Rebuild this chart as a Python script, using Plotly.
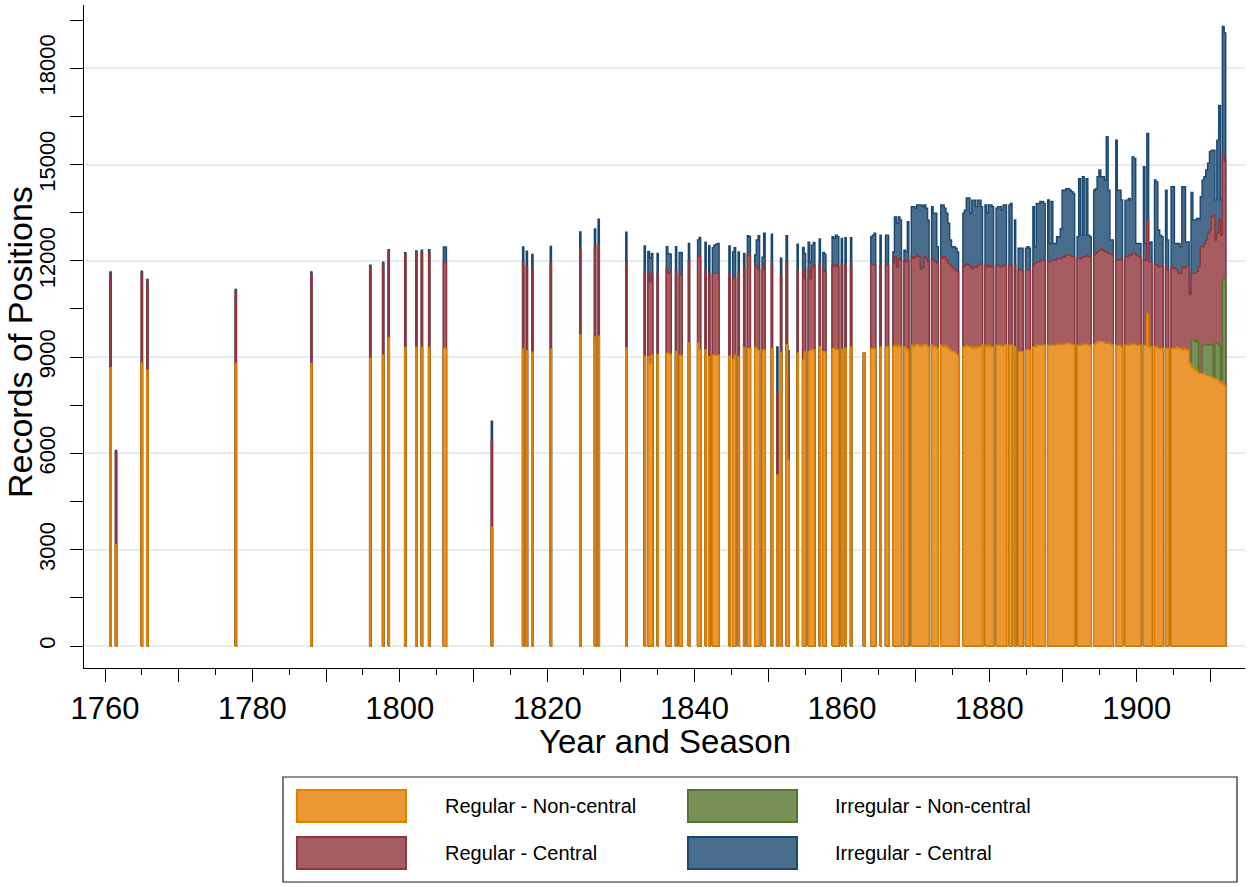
import numpy as np
import plotly.graph_objects as go

# ---------------- data ----------------
series_names = ["Regular - Non-central", "Irregular - Non-central",
                "Regular - Central", "Irregular - Central"]

period = [
    1760.75, 1761.5, 1765.0, 1765.75, 1777.75, 1788.0, 1796.0, 1797.75, 1798.5, 1800.75,
    1802.25, 1803.0, 1804.0, 1806.0, 1806.25, 1812.5, 1816.75, 1817.25, 1818.0, 1820.5,
    1824.5, 1826.5, 1827.0, 1830.75,
    1833.25, 1833.75, 1834.0, 1834.25, 1835.0, 1836.25, 1836.5, 1836.75, 1837.5, 1838.0,
    1838.25, 1839.25, 1840.5, 1840.75, 1841.5, 1842.0, 1842.5, 1842.75, 1843.0, 1843.25,
    1844.75, 1845.25, 1845.5, 1846.0, 1846.75, 1847.25, 1847.5, 1848.25, 1848.5, 1848.75,
    1849.25, 1849.5, 1850.5, 1851.25, 1851.75, 1852.5, 1852.75, 1854.0, 1854.75, 1855.0,
    1855.5, 1855.75, 1856.0, 1856.25, 1857.0, 1857.5, 1857.75, 1858.75, 1859.0, 1859.25,
    1859.5, 1860.0, 1860.5, 1861.25, 1863.0,
    1864.0, 1864.25, 1864.5, 1865.25, 1866.0, 1866.25,
    1867.0, 1867.25, 1867.5, 1867.75, 1868.0, 1868.5, 1868.75, 1869.0,
    1869.5, 1869.75, 1870.0, 1870.25, 1870.5, 1870.75, 1871.0, 1871.25, 1871.5, 1871.75,
    1872.25, 1872.5, 1872.75, 1873.0,
    1873.5, 1873.75, 1874.0, 1874.25, 1874.5, 1874.75, 1875.0, 1875.25, 1875.5, 1875.75,
    1876.5, 1876.75, 1877.0, 1877.25, 1877.5, 1877.75, 1878.0, 1878.25, 1878.5, 1878.75, 1879.0,
    1879.5, 1879.75, 1880.0, 1880.25, 1880.5,
    1881.0, 1881.25, 1881.5, 1881.75, 1882.0, 1882.25, 1882.75, 1883.0, 1883.5,
    1884.0, 1884.25, 1884.5, 1885.0, 1885.25, 1885.5,
    1886.0, 1886.25, 1886.5, 1886.75, 1887.0, 1887.25, 1887.5,
    1888.0, 1888.25, 1888.5, 1888.75, 1889.0, 1889.25, 1889.5, 1889.75, 1890.0, 1890.25,
    1890.5, 1890.75, 1891.0, 1891.25, 1891.5,
    1892.0, 1892.25, 1892.5, 1892.75, 1893.0, 1893.25, 1893.5, 1893.75,
    1894.25, 1894.5, 1894.75, 1895.0, 1895.25, 1895.5, 1895.75, 1896.0, 1896.25, 1896.5, 1896.75,
    1897.25, 1897.5, 1897.75, 1898.0,
    1898.5, 1898.75, 1899.0, 1899.25, 1899.5, 1899.75, 1900.0, 1900.25, 1900.5,
    1901.0, 1901.25, 1901.5, 1901.75, 1902.0,
    1902.5, 1902.75, 1903.0, 1903.25, 1903.5, 1904.0, 1904.25,
    1904.75, 1905.0, 1905.25, 1905.5, 1905.75, 1906.0, 1906.25, 1906.5, 1906.75, 1907.0,
    1907.25, 1907.5, 1907.75, 1908.0, 1908.25, 1908.5, 1908.75, 1909.0, 1909.25, 1909.5,
    1909.75, 1910.0, 1910.25, 1910.5, 1910.75, 1911.0, 1911.25, 1911.5, 1911.75, 1912.0,
]

regular_noncentral = [
    8670, 3160, 8810, 8590, 8800, 8800, 8950, 9050, 9600, 9300,
    9300, 9300, 9300, 9280, 9280, 3700, 9250, 9200, 9150, 9250,
    9700, 9620, 9650, 9290,
    9030, 9010, 8800, 9060, 9080, 9120, 9120, 9080, 9170, 9060,
    9060, 9430, 9430, 9240, 9220, 9010, 9060, 9060, 9060, 9060,
    9030, 8930, 9060, 9010, 9290, 9270, 9270, 9300, 9250, 9200,
    9220, 9220, 9270, 5330, 9140, 9380, 5800, 9120, 8910, 9170,
    9170, 9220, 9220, 9220, 9320, 9170, 9170, 9270, 9270, 9240,
    9240, 9240, 9270, 9320, 9120,
    9270, 9270, 9270, 9320, 9320, 9320,
    9320, 9370, 9320, 9370, 9320, 9320, 9270, 9220,
    9370, 9320, 9370, 9400, 9370, 9320, 9370, 9400, 9370, 9320,
    9370, 9320, 9320, 9270,
    9370, 9320, 9370, 9320, 9270, 9220, 9170, 9170, 9120, 9060,
    9320, 9320, 9370, 9320, 9320, 9270, 9320, 9270, 9320, 9320, 9370,
    9370, 9320, 9370, 9320, 9320,
    9370, 9370, 9370, 9320, 9370, 9370, 9370, 9370, 9320,
    9170, 9170, 9170, 9220, 9220, 9220,
    9320, 9320, 9370, 9370, 9370, 9370, 9370,
    9370, 9370, 9370, 9370, 9370, 9400, 9400, 9400, 9400, 9400,
    9430, 9430, 9400, 9400, 9370,
    9370, 9370, 9370, 9400, 9400, 9400, 9370, 9370,
    9400, 9430, 9480, 9480, 9480, 9480, 9430, 9430, 9430, 9400, 9370,
    9370, 9370, 9370, 9320,
    9370, 9370, 9370, 9400, 9400, 9400, 9370, 9370, 9370,
    9370, 9370, 10360, 9320, 9320,
    9320, 9320, 9270, 9270, 9270, 9270, 9270,
    9270, 9270, 9270, 9320, 9270, 9270, 9220, 9270, 9220, 9220,
    8800, 8700, 8650, 8600, 8550, 8500, 8500, 8490, 8470, 8440,
    8420, 8390, 8370, 8340, 8310, 8290, 8230, 8200, 8150, 8100,
]

# zero until 1907, then the values of the last twenty seasons
irregular_noncentral = [0] * 224 + [
    0, 830, 880, 880, 980, 0, 0, 890, 910, 940,
    960, 990, 1010, 0, 1120, 1140, 1150, 100, 3250, 3400,
]

regular_central = [
    2900, 2880, 2800, 2780, 2250, 2800, 2850, 2850, 2700, 2900,
    2950, 2950, 2950, 2670, 2670, 2700, 2700, 2600, 2600, 2700,
    2700, 2810, 2850, 2680,
    2630, 2600, 2550, 2550, 2530, 2650, 2490, 2530, 2540, 2500,
    2500, 2590, 2700, 2890, 2490, 2550, 2550, 2550, 2550, 2550,
    2580, 2520, 2390, 2600, 2510, 2910, 2910, 2570, 2550, 2530,
    2490, 2700, 2650, 2550, 2420, 2590, 2550, 2570, 2800, 2280,
    2590, 2230, 2600, 2650, 2600, 2540, 2490, 2600, 2550, 2630,
    2580, 2650, 2620, 2600, 0,
    2600, 2600, 2600, 2550, 2550, 2550,
    2600, 2750, 2480, 2700, 2700, 2700, 2700, 2800,
    2760, 2760, 2760, 2780, 2760, 2430, 2430, 2730, 2710, 2650,
    2710, 2700, 2650, 2650,
    2760, 2760, 2760, 2700, 2650, 2650, 2630, 2590, 2590, 2590,
    2490, 2540, 2540, 2540, 2490, 2490, 2490, 2540, 2540, 2540, 2540,
    2490, 2490, 2490, 2490, 2490,
    2490, 2490, 2450, 2500, 2490, 2490, 2490, 2490, 2540,
    2540, 2540, 2540, 2490, 2490, 2490,
    2550, 2600, 2600, 2600, 2650, 2650, 2650,
    2600, 2600, 2650, 2650, 2650, 2670, 2670, 2670, 2720, 2720,
    2750, 2750, 2780, 2730, 2760,
    2700, 2700, 2700, 2730, 2730, 2780, 2760, 2760,
    2780, 2800, 2800, 2850, 2900, 2850, 2850, 2850, 2800, 2830, 2810,
    2650, 2650, 2700, 2700,
    2760, 2760, 2810, 2780, 2830, 2830, 2810, 2760, 2760,
    2650, 2650, 2910, 2650, 2650,
    2550, 2550, 2550, 2550, 2550, 2550, 2440,
    2550, 2500, 2500, 2390, 2340, 2340, 2600, 2500, 2600, 2600,
    2150, 2080, 2080, 2130, 2140, 3320, 3940, 3060, 3160, 3270,
    3480, 3580, 4000, 5090, 3220, 3430, 3890, 4500, 3900, 3600,
]

irregular_central = [
    80, 50, 70, 50, 60, 50, 60, 60, 50, 50,
    60, 80, 100, 480, 480, 600, 480, 500, 450, 500,
    500, 560, 800, 920,
    800, 680, 740, 620, 620, 670, 620, 600, 730, 700,
    690, 520, 520, 600, 870, 910, 800, 880, 910, 930,
    850, 830, 960, 670, 430, 600, 570, 310, 850, 1050,
    400, 940, 910, 1440, 520, 810, 850, 830, 710, 780,
    820, 500, 670, 700, 760, 550, 550, 880, 880, 930,
    930, 810, 830, 800, 0,
    880, 930, 990, 930, 930, 930,
    360, 1250, 1370, 1300, 1250, 310, 310, 1200,
    1560, 1610, 1510, 1560, 1610, 1990, 1890, 1610, 1560, 1300,
    1610, 1460, 1510, 520,
    1610, 1660, 1510, 1460, 1250, 780, 640, 680, 680, 630,
    1670, 1720, 2050, 2100, 1670, 2130, 2080, 1880, 2030, 2030, 1780,
    1880, 1690, 1880, 1930, 1880,
    1780, 1830, 1870, 1760, 1880, 1880, 1880, 1930, 1410,
    680, 680, 680, 680, 730, 680,
    1820, 520, 1820, 1820, 1830, 1830, 1770,
    1930, 570, 1830, 520, 520, 680, 680, 930, 2080, 2080,
    2070, 2070, 2020, 2020, 1970,
    680, 2490, 730, 2490, 670, 2380, 670, 620,
    2020, 2020, 2340, 2500, 2240, 2290, 2240, 3590, 1970, 420, 470,
    3740, 2180, 2130, 1880,
    1760, 1760, 1760, 1710, 3010, 2960, 360, 410, 410,
    2910, 520, 2700, 570, 620,
    2650, 2590, 1140, 980, 930, 2380, 940,
    2490, 2540, 770, 830, 930, 830, 2490, 2540, 770, 770,
    50, 2520, 1660, 1660, 1650, 1500, 1560, 2080, 2080, 2180,
    2180, 2440, 2070, 2020, 1240, 2900, 3570, 1100, 4000, 4000,
]

x_tick_values = [1760, 1770, 1780, 1790, 1800, 1810, 1820, 1830, 1840, 1850,
                 1860, 1870, 1880, 1890, 1900, 1910]
x_tick_labels = ["1760", "", "1780", "", "1800", "", "1820", "", "1840", "",
                 "1860", "", "1880", "", "1900", ""]
y_tick_values = [0, 3000, 6000, 9000, 12000, 15000, 18000]
y_tick_labels = ["0", "3000", "6000", "9000", "12000", "15000", "18000"]

# ---------------- styles ----------------
fill_colors = ["#E99833", "#779159", "#A65D62", "#486C8C"]
line_colors = ["#E37E00", "#55752F", "#90353B", "#1A476F"]
FONT = "Liberation Sans, Arial, sans-serif"

# ---------------- build stacked bands ----------------
p = np.array(period, dtype=float)
vals = np.array([regular_noncentral, irregular_noncentral,
                 regular_central, irregular_central], dtype=float)
cum = np.cumsum(vals, axis=0)

breaks = np.where(np.diff(p) > 0.26)[0] + 1
runs = np.split(np.arange(len(p)), breaks)
HALF = 0.125   # half a season step inside a run
EDGE = 0.085   # half width at the edges of a run


def band_path(c):
    xs, ys = [], []
    for run in runs:
        px = p[run]
        cy = c[run]
        left = px - HALF
        right = px + HALF
        left[0] = px[0] - EDGE
        right[-1] = px[-1] + EDGE
        xs.append(left[0]); ys.append(0.0)
        for i in range(len(run)):
            xs += [left[i], right[i]]
            ys += [cy[i], cy[i]]
        xs += [right[-1], left[0]]
        ys += [0.0, 0.0]
        xs.append(None); ys.append(None)
    return xs, ys


fig = go.Figure()
for k in [3, 2, 1, 0]:
    xs, ys = band_path(cum[k])
    fig.add_trace(go.Scatter(
        x=xs, y=ys, mode="lines", fill="toself",
        fillcolor=fill_colors[k],
        line=dict(color=line_colors[k], width=1.4),
        name=series_names[k], showlegend=False, hoverinfo="skip",
    ))

# ---------------- manual legend (large Stata-style keys) ----------------
PLOT_L, PLOT_R, PLOT_T, PLOT_B = 84, 1245, 5, 668


def px_x(v):
    return (v - PLOT_L) / (PLOT_R - PLOT_L)


def px_y(v):
    return (PLOT_B - v) / (PLOT_B - PLOT_T)


shapes = [dict(type="rect", xref="paper", yref="paper",
               x0=px_x(283), x1=px_x(1237), y0=px_y(882), y1=px_y(777),
               line=dict(color="#222222", width=1.2), fillcolor="white", layer="below")]
annotations = []
legend_slots = [(0, 297, 443, 806), (1, 688, 833, 806), (2, 297, 443, 853), (3, 688, 833, 853)]
for k, sx, tx, cy in legend_slots:
    shapes.append(dict(type="rect", xref="paper", yref="paper",
                       x0=px_x(sx), x1=px_x(sx + 109), y0=px_y(cy + 16), y1=px_y(cy - 16),
                       line=dict(color=line_colors[k], width=2), fillcolor=fill_colors[k]))
    annotations.append(dict(xref="paper", yref="paper", x=px_x(tx), y=px_y(cy),
                            text=series_names[k], showarrow=False, xanchor="left",
                            yanchor="middle", font=dict(family=FONT, size=20, color="black")))

annotations.append(dict(xref="paper", yref="paper", x=px_x(665), y=px_y(741),
                        text="Year and Season", showarrow=False, xanchor="center",
                        yanchor="middle", font=dict(family=FONT, size=33, color="black")))
annotations.append(dict(xref="paper", yref="paper", x=px_x(20), y=px_y(342),
                        text="Records of Positions", showarrow=False, textangle=-90,
                        xanchor="center", yanchor="middle",
                        font=dict(family=FONT, size=34, color="black")))

fig.update_layout(
    width=1250, height=887,
    margin=dict(l=PLOT_L, r=1250 - PLOT_R, t=PLOT_T, b=887 - PLOT_B),
    paper_bgcolor="white", plot_bgcolor="white",
    showlegend=False, hovermode=False,
    font=dict(family=FONT, color="black"),
    shapes=shapes, annotations=annotations,
    xaxis=dict(
        range=[1757.15, 1914.7], showline=True, linecolor="black", linewidth=1.3,
        ticks="outside", ticklen=13, tickwidth=1.3, tickcolor="black",
        tickvals=x_tick_values, ticktext=x_tick_labels,
        tickfont=dict(family=FONT, size=31, color="black"),
        showgrid=False, zeroline=False,
        minor=dict(dtick=5, tick0=1760, ticks="outside", ticklen=6,
                   tickwidth=1.3, tickcolor="black", showgrid=False),
    ),
    yaxis=dict(
        range=[-685, 19970], showline=True, linecolor="black", linewidth=1.3,
        ticks="outside", ticklen=13, tickwidth=1.3, tickcolor="black",
        tickvals=y_tick_values, ticktext=y_tick_labels, tickangle=-90,
        ticklabelstandoff=6,
        tickfont=dict(family=FONT, size=22, color="black"),
        showgrid=True, gridcolor="#E4EEF1", gridwidth=1.5, zeroline=False,
        minor=dict(dtick=1500, tick0=0, ticks="outside", ticklen=13,
                   tickwidth=1.3, tickcolor="black", showgrid=False),
    ),
)

fig.write_html("out.html", config={"displayModeBar": False},
               post_script="document.body.style.margin='0';document.body.style.padding='0';")
